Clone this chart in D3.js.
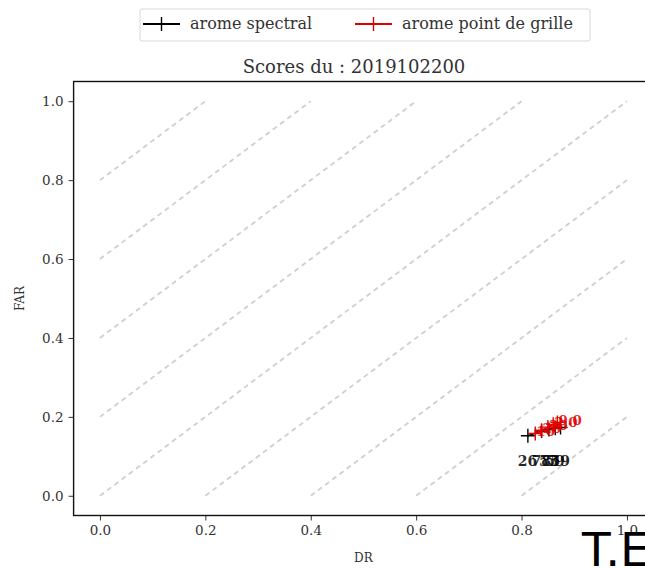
<!DOCTYPE html>
<html><head><meta charset="utf-8">
<script src="https://cdn.jsdelivr.net/npm/d3@7"></script>
<style>body{margin:0;background:#fff}svg{display:block}</style>
</head><body>
<svg id="c" width="645" height="568"></svg>
<script>
const seriesNames = ["arome spectral", "arome point de grille"];
const seriesColors = ["#000000", "#e00000"];
const spectralDR  = [0.812, 0.838, 0.852, 0.864, 0.874];
const spectralFAR = [0.152, 0.164, 0.168, 0.171, 0.173];
const spectralLabels = ["26", "78", "53", "59", "59"];
const grilleDR  = [0.826, 0.838, 0.850, 0.860, 0.868];
const grilleFAR = [0.158, 0.166, 0.174, 0.181, 0.186];
const grilleLabels = ["10", "20", "30", "2.0", "9.0"];
const tickValues = [0.0, 0.2, 0.4, 0.6, 0.8, 1.0];
const diagOffsets = [0.8, 0.6, 0.4, 0.2, 0.0, -0.2, -0.4, -0.6, -0.8];
const titleText = "Scores  du : 2019102200";

const svg = d3.select("#c");
const serif = "'DejaVu Serif', 'Liberation Serif', serif";
const x = d3.scaleLinear().domain([-0.05, 1.05]).range([73.6, 653.3]);
const y = d3.scaleLinear().domain([-0.05, 1.05]).range([515.5, 81.5]);

// diagonal reference lines
const g = svg.append("g");
diagOffsets.forEach(c => {
  const x0 = Math.max(0, -c), x1 = Math.min(1, 1 - c);
  g.append("line")
    .attr("x1", x(x0)).attr("y1", y(x0 + c))
    .attr("x2", x(x1)).attr("y2", y(x1 + c))
    .attr("stroke", "#cfcfcf").attr("stroke-width", 1.8)
    .attr("stroke-dasharray", "5,4");
});

// axes
const xAxis = d3.axisBottom(x).tickValues(tickValues).tickFormat(d3.format(".1f")).tickSize(5).tickPadding(5);
const yAxis = d3.axisLeft(y).tickValues(tickValues).tickFormat(d3.format(".1f")).tickSize(5).tickPadding(5);
const gx = svg.append("g").attr("transform", `translate(0,${y(-0.05)})`).call(xAxis);
const gy = svg.append("g").attr("transform", `translate(${x(-0.05)},0)`).call(yAxis);
[gx, gy].forEach(a => {
  a.selectAll("text").attr("font-family", serif).attr("font-size", 13.5).attr("fill", "#333");
  a.selectAll("line").attr("stroke", "#333");
  a.select(".domain").remove();
});
// frame
svg.append("rect").attr("x", x(-0.05)).attr("y", y(1.05))
  .attr("width", x(1.05) - x(-0.05)).attr("height", y(-0.05) - y(1.05))
  .attr("fill", "none").attr("stroke", "#111").attr("stroke-width", 1.4);

// series
function drawSeries(dr, far, labels, color, labelDx, labelDyFixed, labelDy, fs) {
  const pts = dr.map((d, i) => [x(d), y(far[i])]);
  svg.append("path").attr("d", d3.line()(pts))
    .attr("fill", "none").attr("stroke", color).attr("stroke-width", 1.6);
  const s = 7;
  pts.forEach(p => {
    svg.append("path").attr("d", `M${p[0]-s},${p[1]}H${p[0]+s}M${p[0]},${p[1]-s}V${p[1]+s}`)
      .attr("stroke", color).attr("stroke-width", 1.4);
  });
  labels.forEach((t, i) => {
    const ly = labelDyFixed != null ? labelDyFixed : pts[i][1] + labelDy;
    svg.append("text").attr("x", pts[i][0] + labelDx).attr("y", ly)
      .attr("font-family", serif).attr("font-size", fs).attr("font-weight", "bold")
      .attr("fill", color).attr("fill-opacity", 0.85).text(t);
  });
}
drawSeries(spectralDR, spectralFAR, spectralLabels, seriesColors[0], -10, 466, 0, 14);
drawSeries(grilleDR, grilleFAR, grilleLabels, seriesColors[1], 1, null, 3, 13.5);

// axis labels
svg.append("text").attr("x", x(0.5)).attr("y", 562).attr("text-anchor", "middle")
  .attr("font-family", serif).attr("font-size", 12).attr("fill", "#333").text("DR");
svg.append("text").attr("transform", `translate(24,${y(0.5)}) rotate(-90)`).attr("text-anchor", "middle")
  .attr("font-family", serif).attr("font-size", 12).attr("fill", "#333").text("FAR");

// title
svg.append("text").attr("x", 354).attr("y", 73).attr("text-anchor", "middle")
  .attr("font-family", serif).attr("font-size", 18).attr("fill", "#333").text(titleText);

// legend
const lg = svg.append("g");
lg.append("rect").attr("x", 140).attr("y", 9).attr("width", 450).attr("height", 32)
  .attr("fill", "#fff").attr("stroke", "#d8d8d8").attr("stroke-width", 1).attr("rx", 2);
const legX = [143, 355];
seriesNames.forEach((n, i) => {
  const lx = legX[i], ly = 24;
  lg.append("line").attr("x1", lx).attr("x2", lx + 37).attr("y1", ly).attr("y2", ly)
    .attr("stroke", seriesColors[i]).attr("stroke-width", 1.8);
  lg.append("path").attr("d", `M${lx+18.5},${ly-7}V${ly+7}`).attr("stroke", seriesColors[i]).attr("stroke-width", 1.4);
  lg.append("text").attr("x", lx + 47).attr("y", ly + 5).attr("font-family", serif)
    .attr("font-size", 16).attr("fill", "#333").text(n);
});

// overlay text
svg.append("text").attr("x", 582).attr("y", 566).attr("font-family", "'DejaVu Sans', sans-serif")
  .attr("font-size", 47).attr("fill", "#000").text("T.E");
</script>
</body></html>
